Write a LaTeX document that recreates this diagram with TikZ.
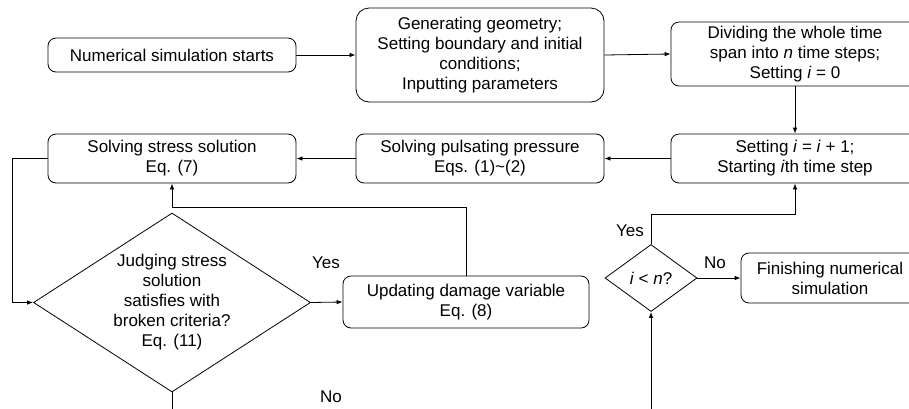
\documentclass[tikz,border=0pt]{standalone}
\usepackage{fontspec}
\setmainfont{Liberation Sans}
\usetikzlibrary{shapes.geometric,arrows.meta}
\begin{document}
\begin{tikzpicture}[x=1pt,y=-1pt,
  every node/.style={font=\fontsize{17}{20}\selectfont},
  box/.style={draw, line width=0.8pt, rounded corners=8pt, align=center, inner sep=0pt},
  diam/.style={draw, line width=0.8pt, diamond, inner sep=0pt},
  lbl/.style={inner sep=0pt},
  arr/.style={line width=0.8pt, -{Latex[length=6pt,width=4.5pt]}},
  ln/.style={line width=0.8pt}]
\clip (0,0) rectangle (909,408);
\node[box, minimum width=248pt, minimum height=34pt] (b1) at (172,55) {Numerical simulation starts};
\node[box, rounded corners=13pt, minimum width=248pt, minimum height=94pt] (b2) at (480,55) {Generating geometry;\\Setting boundary and initial\\conditions;\\Inputting parameters};
\node[box, minimum width=248pt, minimum height=64pt] (b3) at (795,54) {Dividing the whole time\\span into \textit{n} time steps;\\Setting \textit{i} = 0};
\node[box, minimum width=248pt, minimum height=49pt] (b4) at (795,158.5) {Setting \textit{i} = \textit{i} + 1;\\Starting \textit{i}th time step};
\node[box, minimum width=248pt, minimum height=49pt] (b5) at (480,158.5) {Solving pulsating pressure\\Eqs. (1)\textasciitilde(2)};
\node[box, minimum width=248pt, minimum height=49pt] (b6) at (172,158.5) {Solving stress solution\\Eq. (7)};
\node[diam, minimum width=277pt, minimum height=179pt,
  label={[align=center, font=\fontsize{17}{20}\selectfont]center:Judging stress\\solution\\satisfies with\\broken criteria?\\Eq. (11)}] (d1) at (172,302.5) {};
\node[box, minimum width=246pt, minimum height=52pt] (b7) at (466,302) {Updating damage variable\\Eq. (8)};
\node[diam, minimum width=92pt, minimum height=67pt,
  label={center:\textit{i} < \textit{n}?}] (d2) at (651,278) {};
\node[box, minimum width=178pt, minimum height=50pt] (b8) at (830,278) {Finishing numerical\\simulation};
\node[lbl] (yes1) at (326,263) {Yes};
\node[lbl] (no1) at (331,397) {No};
\node[lbl] (yes2) at (630,231) {Yes};
\node[lbl] (no2) at (715,263) {No};
\coordinate (c1) at (12,158.5);
\coordinate (c2) at (172,207);
\coordinate (c3) at (795,214);
\coordinate (e1) at (172,420);
\coordinate (e2) at (651,420);
\draw[arr] (b1.east) -- (b2.west);
\draw[arr] (b2.east) -- (b3.west);
\draw[arr] (b3.south) -- (b4.north);
\draw[arr] (b4.west) -- (b5.east);
\draw[arr] (b5.west) -- (b6.east);
\draw[arr] (b6.west) -- (c1) |- (d1.west);
\draw[arr] (d1.east) -- (b7.west);
\draw[arr] (b7.north) |- (c2) -- (b6.south);
\draw[ln] (d1.south) -- (e1);
\draw[arr] (d2.north) |- (c3) -- (b4.south);
\draw[arr] (d2.east) -- (b8.west);
\draw[arr] (e2) -- (d2.south);
\end{tikzpicture}
\end{document}
